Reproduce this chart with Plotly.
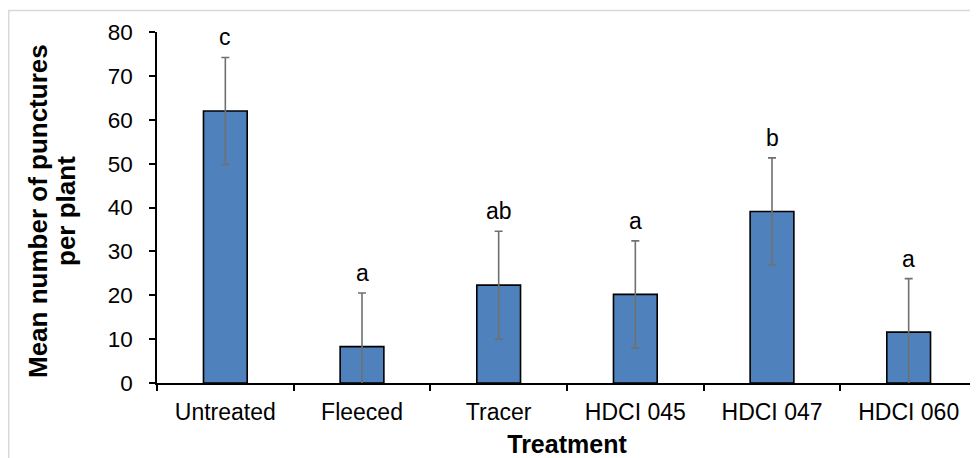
import plotly.graph_objects as go

categories = ["Untreated", "Fleeced", "Tracer", "HDCI 045", "HDCI 047", "HDCI 060"]
means = [62.0, 8.3, 22.3, 20.2, 39.1, 11.6]
errors = [12.2, 12.2, 12.3, 12.2, 12.2, 12.2]
letters = ["c", "a", "ab", "a", "b", "a"]
y_ticks = [0, 10, 20, 30, 40, 50, 60, 70, 80]
y_title_lines = ["Mean number of punctures", "per plant"]

# page body has an 8px margin, so the figure is drawn at (8, 8)
W, H = 970, 450
ml, mr, mt, mb = 149, 1, 24, 75
pw = W - ml - mr
ph = H - mt - mb

fig = go.Figure()
fig.add_trace(go.Bar(
    x=categories, y=means, width=0.32,
    marker=dict(color="#4F81BD", line=dict(color="#000000", width=1.6)),
    error_y=dict(type="data", array=errors, visible=True, color="#707070",
                 thickness=1.6, width=4),
    showlegend=False,
))

for c, m, e, t in zip(categories, means, errors, letters):
    fig.add_annotation(x=c, y=m + e, text=t, showarrow=False, yshift=20,
                       font=dict(size=23, color="#000000"))

# y-axis title as two rotated lines
for px_x, line in zip([30, 58], y_title_lines):
    fig.add_annotation(xref="paper", yref="paper",
                       x=(px_x - ml) / pw, y=(ph - (203 - mt)) / ph,
                       xanchor="center", yanchor="middle",
                       text="<b>" + line + "</b>", textangle=-90, showarrow=False,
                       font=dict(size=26, color="#000000"))

# light grey outer frame
fig.add_shape(type="rect", xref="paper", yref="paper",
              x0=(0.75 - ml) / pw, x1=(W + 20 - ml) / pw,
              y0=(ph - (H + 20 - mt)) / ph, y1=(ph - (2.5 - mt)) / ph,
              line=dict(color="#d9d9d9", width=1.5), fillcolor="rgba(0,0,0,0)",
              layer="below")

fig.update_layout(
    width=W, height=H,
    margin=dict(l=ml, r=mr, t=mt, b=mb, autoexpand=False),
    paper_bgcolor="white", plot_bgcolor="white",
    font=dict(family="Liberation Sans, Arial, sans-serif", size=23, color="#000000"),
    xaxis=dict(
        automargin=False,
        showline=True, linecolor="#000000", linewidth=1.5,
        ticks="outside", tickson="boundaries", ticklen=6, tickwidth=1.5, tickcolor="#000000",
        tickfont=dict(size=23), ticklabelstandoff=8,
        title=dict(text="<b>Treatment</b>", font=dict(size=25), standoff=14),
        range=[-0.5, 5.5],
    ),
    yaxis=dict(
        automargin=False,
        range=[0, 80], tickvals=y_ticks,
        showline=True, linecolor="#000000", linewidth=1.5,
        ticks="outside", ticklen=6, tickwidth=1.5, tickcolor="#000000",
        showgrid=False, zeroline=False,
        tickfont=dict(size=22.5), ticklabelstandoff=12,
    ),
)

fig.write_html("out.html")
